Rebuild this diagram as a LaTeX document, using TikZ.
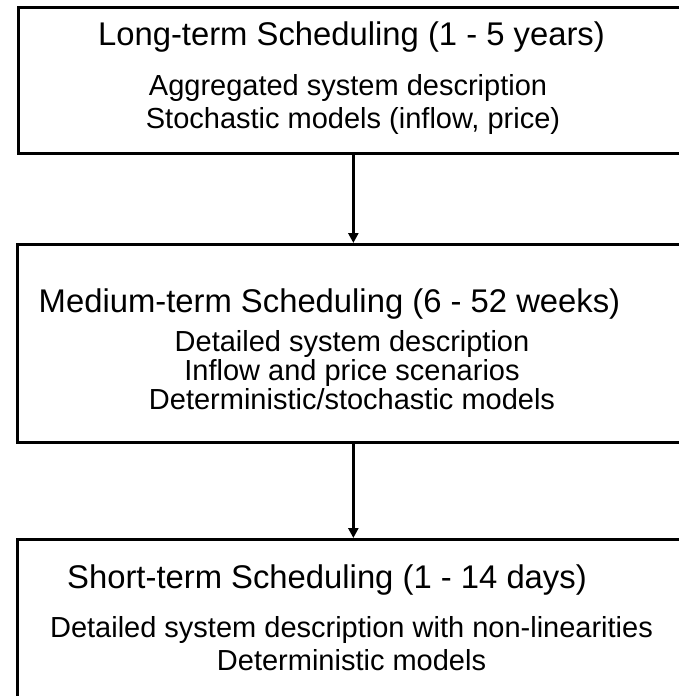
\documentclass[tikz,border=0pt]{standalone}
\usepackage{fontspec}
\setmainfont{Liberation Sans}
\usetikzlibrary{arrows.meta}
\begin{document}
\begin{tikzpicture}[x=1pt,y=-1pt,
  box/.style={draw=black,line width=2.7pt,inner sep=0pt,anchor=north west},
  ttl/.style={font=\fontsize{32.8}{38}\selectfont,inner sep=0pt,anchor=base},
  body/.style={font=\fontsize{29}{34}\selectfont,inner sep=0pt,anchor=base},
  arr/.style={line width=2.6pt,-{Triangle[length=10pt,width=10pt]}}]
\useasboundingbox (0,0) rectangle (679,696);
\node[box,minimum width=670pt,minimum height=146pt] (b1) at (17,6) {};
\node[box,minimum width=672pt,minimum height=198pt] (b2) at (16,243) {};
\node[box,minimum width=672pt,minimum height=200pt] (b3) at (16,538) {};
\node[ttl] (t1) at (351.5,45) {Long-term Scheduling (1 - 5 years)};
\node[body] (d1a) at (348,95) {Aggregated system description};
\node[body] (d1b) at (353,128) {Stochastic models (inflow, price)};
\node[ttl] (t2) at (329.5,312) {Medium-term Scheduling (6 - 52 weeks)};
\node[body] (d2a) at (352,351) {Detailed system description};
\node[body] (d2b) at (352,380) {Inflow and price scenarios};
\node[body] (d2c) at (352,409) {Deterministic/stochastic models};
\node[ttl] (t3) at (327,588) {Short-term Scheduling (1 - 14 days)};
\node[body] (d3a) at (351.5,637) {Detailed system description with non-linearities};
\node[body] (d3b) at (351.5,670) {Deterministic models};
\draw[arr] (b1.south) -- (b2.north);
\draw[arr] (b2.south) -- (b3.north);
\end{tikzpicture}
\end{document}
